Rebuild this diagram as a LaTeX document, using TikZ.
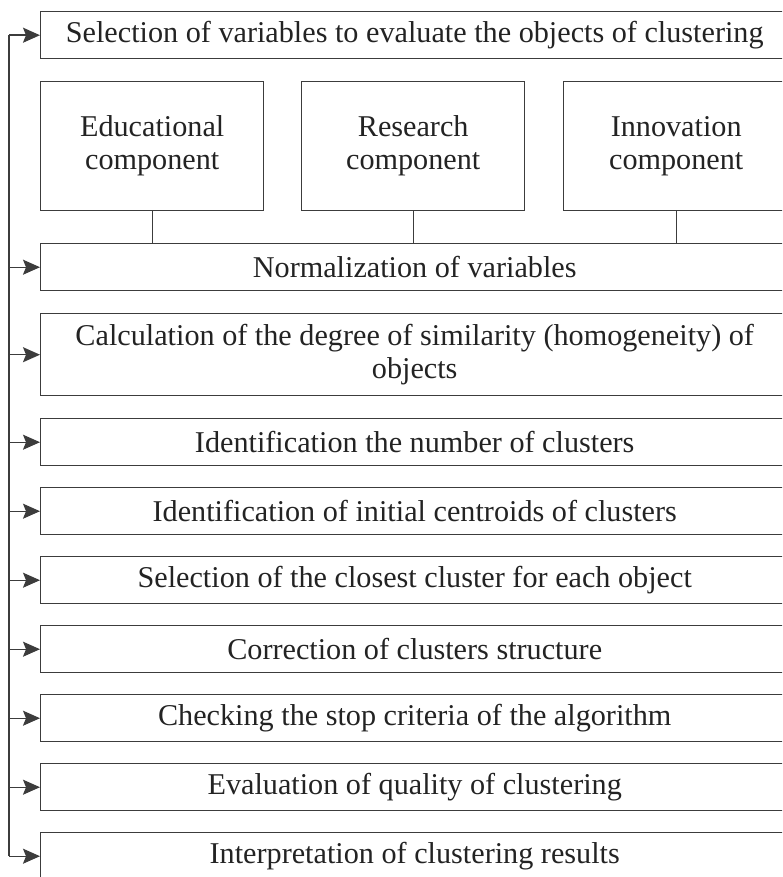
\documentclass[tikz,border=0pt]{standalone}
\usepackage{fontspec}
\setmainfont{Liberation Serif}
\usetikzlibrary{positioning,arrows.meta}
\definecolor{linegrey}{RGB}{60,60,60}
\definecolor{textgrey}{RGB}{35,35,35}

\begin{document}
\begin{tikzpicture}[x=1pt,y=-1pt]
	\tikzset{
		stepbox/.style={
			draw=linegrey,
			line width=1.4pt,
			anchor=north west,
			minimum width=748pt,
			minimum height=47pt,
			inner sep=0pt,
			align=center,
			font=\fontsize{30.2}{33}\selectfont,
			text=textgrey
		},
		compbox/.style={stepbox, minimum width=223pt, minimum height=129pt},
		link/.style={draw=linegrey, line width=1.4pt},
		feed/.style={link, -{Stealth[length=17pt,width=15pt,inset=3pt]}}
	}
	\useasboundingbox (0,0) rectangle (782,877);
	\clip (0,0) rectangle (782,877);

	% stages of the algorithm
	\node[stepbox] (select) at (40,11) {Selection of variables to evaluate the objects of clustering};
	\node[compbox] (edu) at (40,81) {Educational\\component};
	\node[compbox] (res) at (301,81) {Research\\component};
	\node[compbox, minimum width=225pt] (inno) at (563,81) {Innovation\\component};
	\node[stepbox] (norm) at (40,243) {Normalization of variables};
	\node[stepbox, minimum height=82pt] (calc) at (40,313) {Calculation of the degree of similarity (homogeneity) of\\objects};
	\node[stepbox] (numb) at (40,418) {Identification the number of clusters};
	\node[stepbox] (cent) at (40,487) {Identification of initial centroids of clusters};
	\node[stepbox] (close) at (40,556) {Selection of the closest cluster for each object};
	\node[stepbox] (corr) at (40,625) {Correction of clusters structure};
	\node[stepbox] (stop) at (40,694) {Checking the stop criteria of the algorithm};
	\node[stepbox] (qual) at (40,763) {Evaluation of quality of clustering};
	\node[stepbox] (interp) at (40,832) {Interpretation of clustering results};

	% components feed the normalization
	\foreach \c in {edu,res,inno}
		\draw[link] (\c.south) -- (\c.south |- norm.north);

	% return rail on the left
	\coordinate (rail) at (9,0);
	\draw[link] (rail |- select.west) -- (rail |- interp.west);
	\foreach \b in {select,norm,calc,numb,cent,close,corr,stop,qual,interp}
		\draw[feed] (rail |- \b.west) -- (\b.west);
\end{tikzpicture}
\end{document}
